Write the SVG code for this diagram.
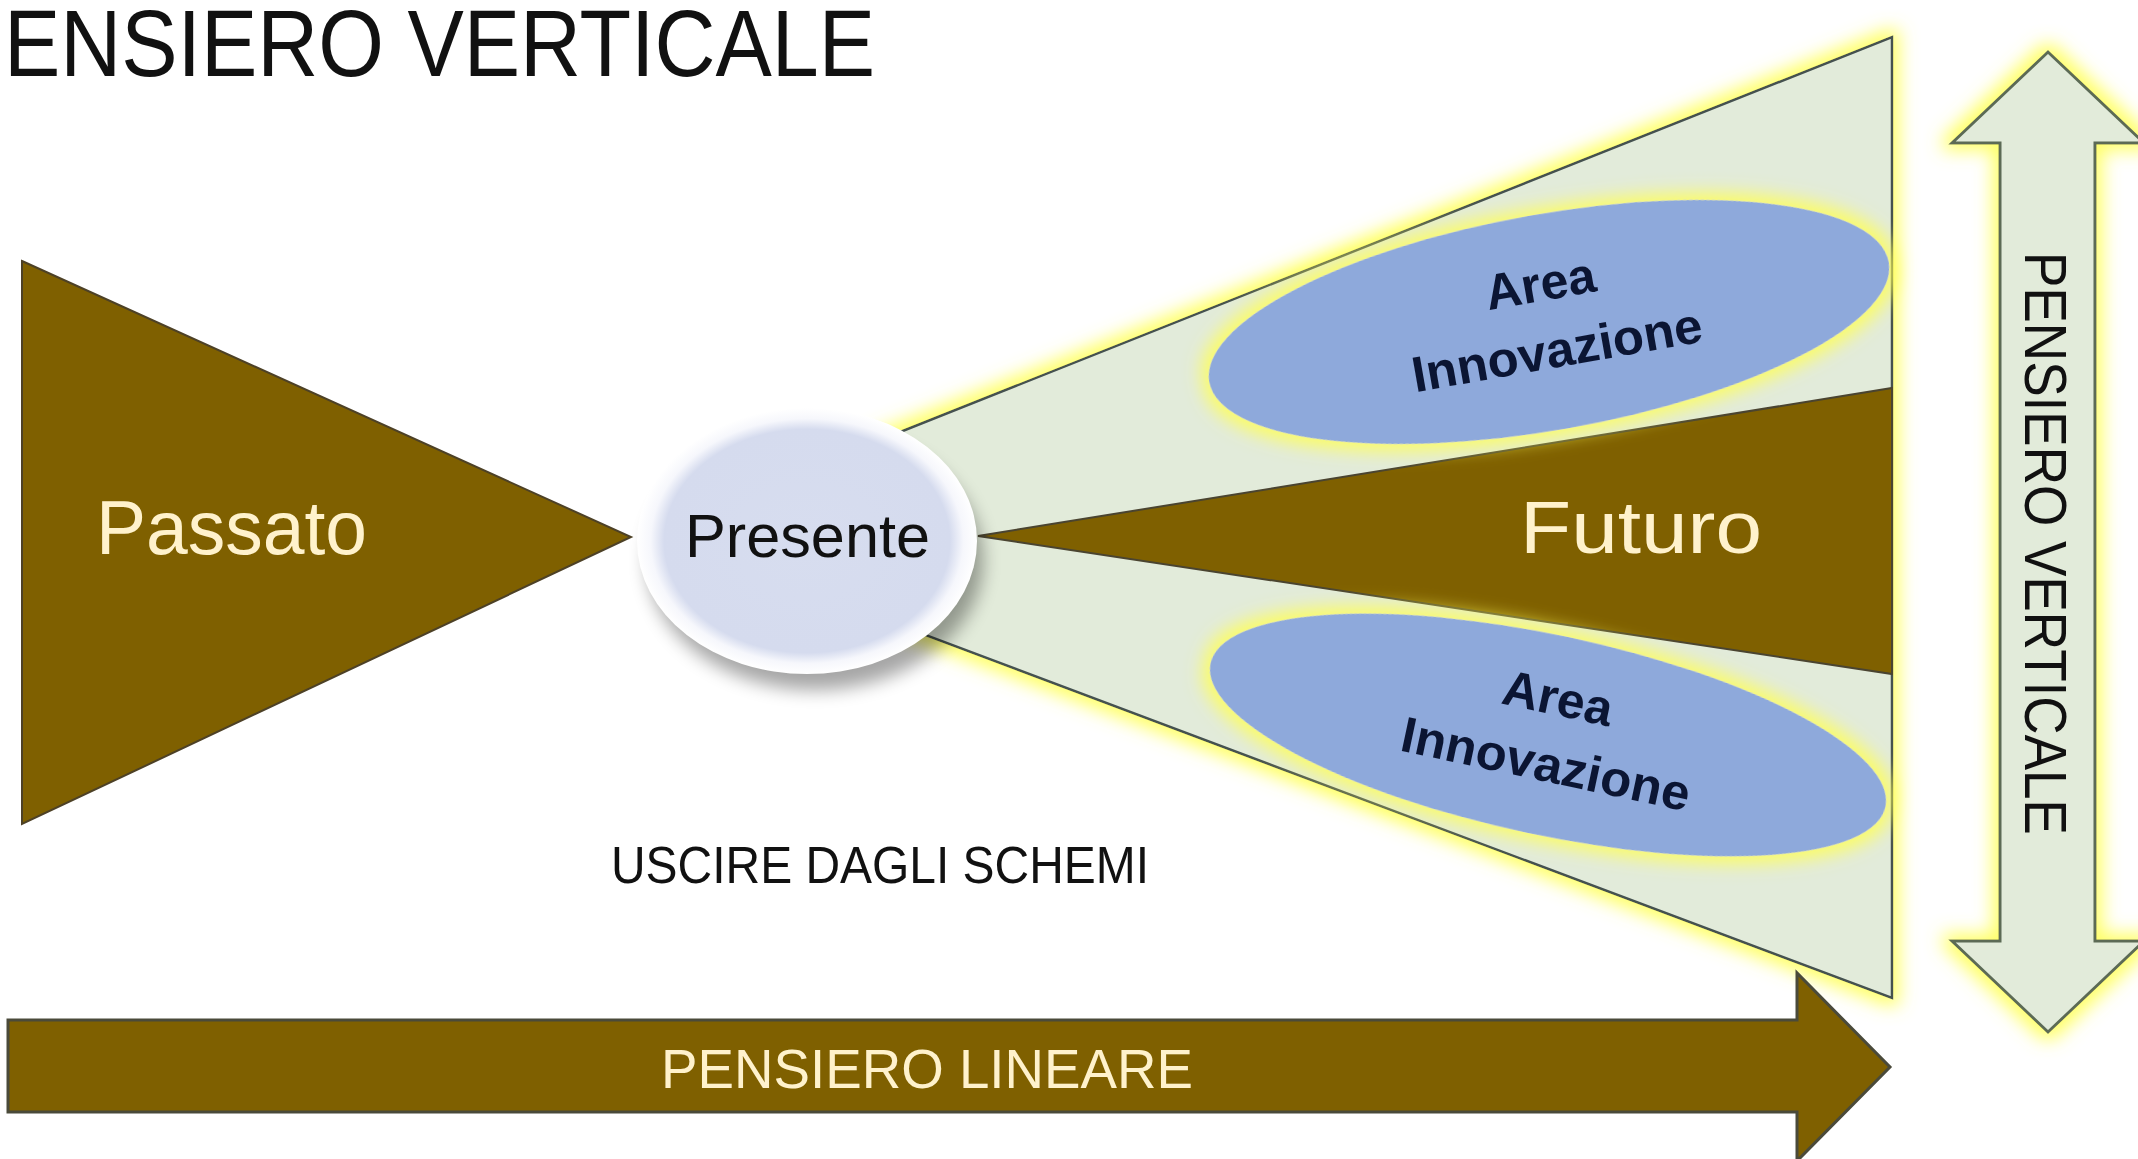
<svg xmlns="http://www.w3.org/2000/svg" width="2138" height="1159" viewBox="0 0 2138 1159">
  <defs>
    <filter id="glow" x="-20%" y="-20%" width="140%" height="140%">
      <feMorphology in="SourceAlpha" operator="dilate" radius="6" result="d"/>
      <feGaussianBlur in="d" stdDeviation="9" result="b"/>
      <feFlood flood-color="#FFFF55" flood-opacity="0.9"/>
      <feComposite in2="b" operator="in" result="g"/>
      <feMerge><feMergeNode in="g"/><feMergeNode in="SourceGraphic"/></feMerge>
    </filter>
    <filter id="shadow" x="-30%" y="-30%" width="160%" height="160%">
      <feGaussianBlur stdDeviation="9"/>
    </filter>
    <radialGradient id="presGrad" cx="50%" cy="50%" r="50%">
      <stop offset="0" stop-color="#D7DDEF"/>
      <stop offset="0.84" stop-color="#D5DBEE"/>
      <stop offset="0.92" stop-color="#F6F7FC"/>
      <stop offset="1" stop-color="#FFFFFF"/>
    </radialGradient>
    <style>
      .brown { fill: #7F6000; }
      .cream { fill: #FFF2CC; font-family: "Liberation Sans", Arial, sans-serif; }
      .dark { fill: #111111; font-family: "Liberation Sans", Arial, sans-serif; }
      .area { fill: #0B1533; font-family: "Liberation Sans", Arial, sans-serif; font-weight: bold; font-size: 50px; text-anchor: middle; }
      .blue { fill: #8EA9DB; }
      .green { fill: #E2EBDA; }
    </style>
  </defs>

  <rect width="2138" height="1159" fill="#FFFFFF"/>

  <g id="title">
    <text x="4" y="76" class="dark" font-size="94" fill="#000" textLength="871" lengthAdjust="spacingAndGlyphs">ENSIERO VERTICALE</text>
  </g>

  <g id="fan">
    <polygon points="880,440 1892,37 1892,998 880,618" class="green" stroke="#44514F" stroke-width="2.5" filter="url(#glow)"/>
  </g>

  <g id="futuro">
    <polygon points="978,536 1892,388 1892,674" class="brown" stroke="#4A4430" stroke-width="2"/>
    <text x="1520" y="553" class="cream" font-size="74" textLength="242" lengthAdjust="spacingAndGlyphs">Futuro</text>
  </g>

  <g id="area-innovazione-1">
    <ellipse cx="1549" cy="322" rx="345" ry="108" transform="rotate(-10 1549 322)" class="blue" filter="url(#glow)"/>
    <g transform="translate(1549,322) rotate(-10)">
      <text x="-2" y="-22" class="area">Area</text>
      <text x="3" y="46" class="area" textLength="294" lengthAdjust="spacingAndGlyphs">Innovazione</text>
    </g>
  </g>

  <g id="area-innovazione-2">
    <ellipse cx="1548" cy="735" rx="345" ry="100" transform="rotate(12 1548 735)" class="blue" filter="url(#glow)"/>
    <g transform="translate(1548,735) rotate(12)">
      <text x="2" y="-21" class="area">Area</text>
      <text x="4" y="46" class="area" textLength="294" lengthAdjust="spacingAndGlyphs">Innovazione</text>
    </g>
  </g>

  <g id="passato">
    <polygon points="22,261 631,537 22,824" class="brown" stroke="#4D4126" stroke-width="2"/>
    <text x="96" y="554" class="cream" font-size="76" textLength="271" lengthAdjust="spacingAndGlyphs">Passato</text>
  </g>

  <g id="presente">
    <ellipse cx="815" cy="560" rx="168" ry="130" fill="#000" opacity="0.35" filter="url(#shadow)"/>
    <ellipse cx="807" cy="541" rx="170" ry="133" fill="url(#presGrad)"/>
    <text x="685" y="557" class="dark" font-size="61" textLength="245" lengthAdjust="spacingAndGlyphs">Presente</text>
  </g>

  <g id="uscire-dagli-schemi">
    <text x="611" y="883" class="dark" font-size="52" fill="#000" textLength="538" lengthAdjust="spacingAndGlyphs">USCIRE DAGLI SCHEMI</text>
  </g>

  <g id="pensiero-verticale">
    <polygon points="2048,52 2144,143 2095,143 2095,941 2144,941 2048,1032 1952,941 2000,941 2000,143 1952,143" class="green" stroke="#5B6B55" stroke-width="3" filter="url(#glow)"/>
    <text transform="translate(2025,252) rotate(90)" class="dark" font-size="60" fill="#000" textLength="583" lengthAdjust="spacingAndGlyphs">PENSIERO VERTICALE</text>
  </g>

  <g id="pensiero-lineare">
    <polygon points="8,1020 1797,1020 1797,973 1890,1067 1797,1161 1797,1112 8,1112" class="brown" stroke="#4A4A3A" stroke-width="3"/>
    <text x="661" y="1088" class="cream" font-size="56" textLength="532" lengthAdjust="spacingAndGlyphs">PENSIERO LINEARE</text>
  </g>

  <g id="connectors"></g>
</svg>
